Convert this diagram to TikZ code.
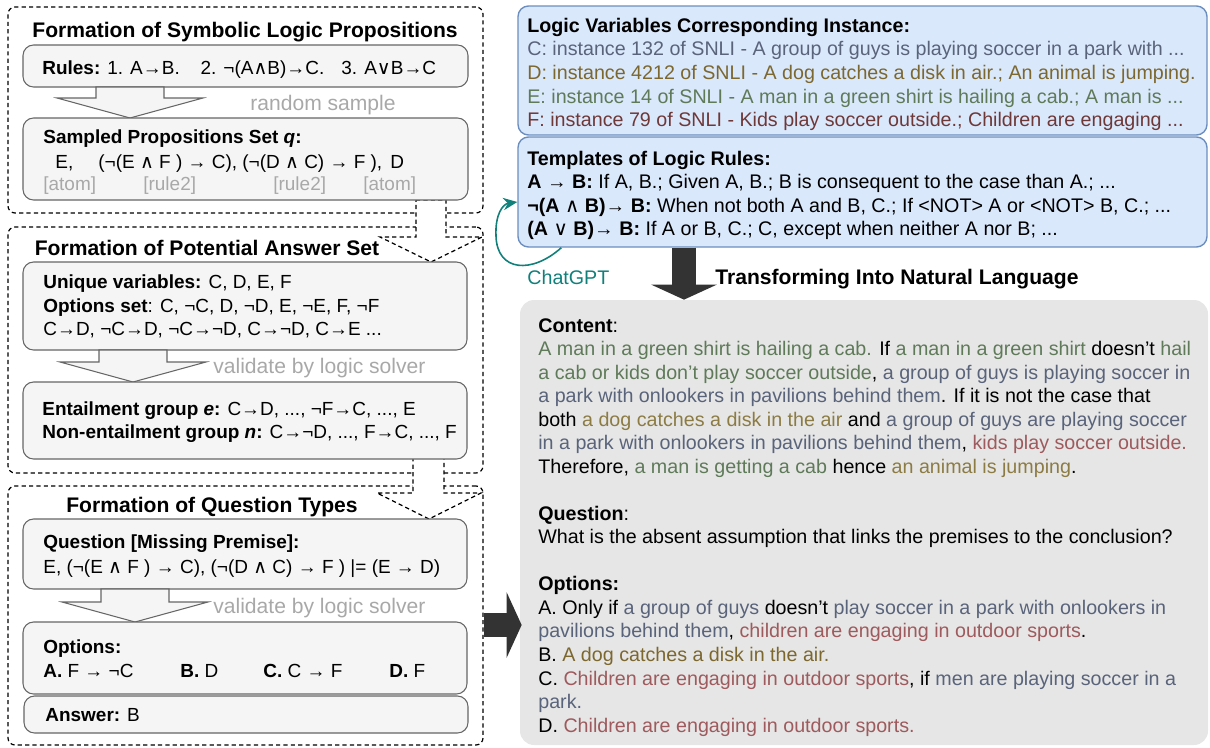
\documentclass[tikz,border=0pt]{standalone}
\usepackage{fontspec}
\setmainfont{Liberation Sans}
\newfontfamily\logicfont{DejaVu Sans}
\usetikzlibrary{fit,calc,arrows.meta}

\definecolor{boxgray}{HTML}{F5F5F5}
\definecolor{edgegray}{HTML}{666666}
\definecolor{notegray}{HTML}{A8A8A8}
\definecolor{bluefill}{HTML}{DAE8FC}
\definecolor{blueedge}{HTML}{6C8EBF}
\definecolor{panelgray}{HTML}{E6E6E6}
\definecolor{darkarrow}{HTML}{333333}
\definecolor{gptteal}{HTML}{11807B}
% colours of the four variables (list / running text)
\definecolor{grpC}{HTML}{59637A}
\definecolor{dogD}{HTML}{7C672E}
\definecolor{dogDl}{HTML}{8C7B43}
\definecolor{manE}{HTML}{5E7A58}
\definecolor{kidF}{HTML}{6E3838}
\definecolor{kidFl}{HTML}{9E5A5C}

\newcommand{\andsym}{{\logicfont\mdseries ∧}}
\newcommand{\orsym}{{\logicfont\mdseries ∨}}
\newcommand{\grp}[1]{\textcolor{grpC}{#1}}
\newcommand{\dog}[1]{\textcolor{dogDl}{#1}}
\newcommand{\man}[1]{\textcolor{manE}{#1}}
\newcommand{\kid}[1]{\textcolor{kidFl}{#1}}

\begin{document}
\begin{tikzpicture}[x=0.02cm, y=-0.02cm,
  section/.style={draw=black, dash pattern=on 2.4pt off 1.8pt, rounded corners=4pt,
                  line width=0.7pt, inner sep=0pt},
  inner/.style={draw=edgegray, fill=boxgray, rounded corners=6pt, line width=0.6pt, inner sep=0pt},
  bluebox/.style={draw=blueedge, fill=bluefill, rounded corners=6pt, line width=0.8pt, inner sep=0pt},
  panel/.style={fill=panelgray, rounded corners=8pt, inner sep=0pt},
  dashblk/.style={draw=black, fill=white, dash pattern=on 2.4pt off 1.8pt, line width=0.7pt},
  hollow/.style={draw=edgegray, fill=boxgray, line width=0.6pt},
  bigarrow/.style={darkarrow, line width=0.48cm, -{Triangle[length=0.3cm, width=1.3cm]}},
  gptarrow/.style={gptteal, line width=0.9pt, -{Stealth[length=8pt, width=7pt]}},
  ttl/.style={anchor=base, inner sep=0pt, font=\bfseries\fontsize{12}{14}\selectfont},
  txt/.style={anchor=base west, inner sep=0pt, font=\fontsize{10.8}{13}\selectfont},
  rtxt/.style={anchor=base west, inner sep=0pt, font=\fontsize{11.2}{13.4}\selectfont},
  note/.style={anchor=base west, inner sep=0pt, text=notegray, font=\fontsize{12}{14}\selectfont}]
\useasboundingbox (0,0) rectangle (1210,747);

% left column: three dashed sections
\node[section, fit={(8,7) (483,213)}] (secA) {};
\node[section, fit={(8,227) (483,473)}] (secB) {};
\node[section, fit={(8,486) (483,745)}] (secC) {};
\draw[dashblk] (416,200) -- (446,200) -- (446,237) -- (482,237) -- (431,262) -- (380,237) -- (416,237) -- cycle;
\draw[dashblk] (413,457) -- (444,457) -- (444,493) -- (481,493) -- (429,519) -- (377,493) -- (413,493) -- cycle;

% section A
\node[ttl] (ttlA) at (245,37) {Formation of Symbolic Logic Propositions};
\node[inner, fit={(23,45) (468,87)}] (rules) {};
\node[txt] (rulestxt) at (42,74) {\textbf{Rules:} 1. A→B.\hspace{1.1em}2. ¬(A\andsym B)→C.\hspace{0.9em}3. A\orsym B→C};
\draw[hollow] (96,87) -- (164,87) -- (164,98) -- (203,98) -- (130,118) -- (57,98) -- (96,98) -- cycle;
\node[note] (sample) at (250,110) {random sample};
\node[inner, fit={(23,118) (468,200)}] (sampled) {};
\node[txt] (sampledttl) at (43,143) {\textbf{Sampled Propositions Set \emph{q}:}};
\node[txt] (propE) at (55,168) {E,};
\node[txt] (propR) at (98,168) {(¬(E \andsym{} F ) → C), (¬(D \andsym{} C) → F ),};
\node[txt] (propD) at (390,168) {D};
\node[txt, text=notegray] (tagA) at (43,190) {[atom]};
\node[txt, text=notegray] (tagB) at (143,190) {[rule2]};
\node[txt, text=notegray] (tagC) at (273,190) {[rule2]};
\node[txt, text=notegray] (tagD) at (363,190) {[atom]};

% section B
\node[ttl] (ttlB) at (207,255) {Formation of Potential Answer Set};
\node[inner, fit={(23,262) (467,350)}] (uniq) {};
\node[txt] (uniqA) at (43,288) {\textbf{Unique variables:} C, D, E, F};
\node[txt] (uniqB) at (43,312) {\textbf{Options set}: C, ¬C, D, ¬D, E, ¬E, F, ¬F};
\node[txt] (uniqC) at (43,335) {C→D, ¬C→D, ¬C→¬D, C→¬D, C→E ...};
\draw[hollow] (99,350) -- (167,350) -- (167,362) -- (206,362) -- (133,382) -- (60,362) -- (99,362) -- cycle;
\node[note] (solveA) at (213,373) {validate by logic solver};
\node[inner, fit={(23,382) (467,459)}] (entail) {};
\node[txt] (entA) at (42,415) {\textbf{Entailment group \emph{e}:} C→D, ..., ¬F→C, ..., E};
\node[txt] (entB) at (42,438) {\textbf{Non-entailment group \emph{n}:} C→¬D, ..., F→C, ..., F};

% section C
\node[ttl] (ttlC) at (212,512) {Formation of Question Types};
\node[inner, fit={(23,519) (467,589)}] (quest) {};
\node[txt] (questA) at (43,548) {\textbf{Question [Missing Premise]:}};
\node[txt] (questB) at (43,573) {E, (¬(E \andsym{} F ) → C), (¬(D \andsym{} C) → F ) |= (E → D)};
\draw[hollow] (101,589) -- (169,589) -- (169,602) -- (208,602) -- (135,622) -- (62,602) -- (101,602) -- cycle;
\node[note] (solveB) at (213,613) {validate by logic solver};
\node[inner, fit={(23,622) (467,694)}] (opts) {};
\node[txt] (optsttl) at (43,653) {\textbf{Options:}};
\node[txt] (optA) at (43,677) {\textbf{A.} F → ¬C};
\node[txt] (optB) at (180,677) {\textbf{B.} D};
\node[txt] (optC) at (263,677) {\textbf{C.} C → F};
\node[txt] (optD) at (389,677) {\textbf{D.} F};
\node[inner, fit={(24,696) (468,733)}] (answer) {};
\node[txt] (answertxt) at (45,721) {\textbf{Answer:} B};

% right column
\node[bluebox, fit={(518,6) (1207,135)}] (inst) {};
\node[rtxt] (instttl) at (527,32) {\textbf{Logic Variables Corresponding Instance:}};
\node[rtxt, text=grpC] (instC) at (527,55) {C: instance 132 of SNLI - A group of guys is playing soccer in a park with ...};
\node[rtxt, text=dogD] (instD) at (527,79) {D: instance 4212 of SNLI - A dog catches a disk in air.; An animal is jumping.};
\node[rtxt, text=manE] (instE) at (527,103) {E: instance 14 of SNLI - A man in a green shirt is hailing a cab.; A man is ...};
\node[rtxt, text=kidF] (instF) at (527,126) {F: instance 79 of SNLI - Kids play soccer outside.; Children are engaging ...};

\node[bluebox, fit={(518,137) (1207,247)}] (tpl) {};
\node[rtxt] (tplttl) at (527,165) {\textbf{Templates of Logic Rules:}};
\node[rtxt] (tplA) at (527,188) {\textbf{A → B:} If A, B.; Given A, B.; B is consequent to the case than A.; ...};
\node[rtxt] (tplB) at (527,212) {\textbf{¬(A \andsym{} B)→ B:} When not both A and B, C.; If <NOT> A or <NOT> B, C.; ...};
\node[rtxt] (tplC) at (527,235) {\textbf{(A \orsym{} B)→ B:} If A or B, C.; C, except when neither A nor B; ...};

\draw[gptarrow] ([xshift=0.88cm]tpl.south west) .. controls (532,274) and (497,272) .. (496,236)
  .. controls (495,214) and (503,204) .. ([yshift=-0.2cm]tpl.west);
\node[rtxt, text=gptteal] (gpt) at (527,284) {ChatGPT};

\node[panel, fit={(520,300) (1208,745)}] (content) {};
\coordinate (dn) at (684,0);
\draw[bigarrow] (tpl.south -| dn) -- (content.north -| dn);
\node[anchor=base west, inner sep=0pt, font=\bfseries\fontsize{12}{14}\selectfont] (trans) at (715,284) {Transforming Into Natural Language};
\coordinate (rt) at (0,625);
\draw[bigarrow] (secC.east |- rt) -- ([xshift=0.04cm]content.west |- rt);

% text of the generated instance
\node[rtxt] (ct0) at (538,332) {\textbf{Content}:};
\node[rtxt] (ct1) at (538,355.5) {\man{A man in a green shirt is hailing a cab.} If \man{a man in a green shirt} doesn’t \man{hail}};
\node[rtxt] (ct2) at (538,379) {\man{a cab or kids don’t play soccer outside}, \grp{a group of guys is playing soccer in}};
\node[rtxt] (ct3) at (538,402.6) {\grp{a park with onlookers in pavilions behind them}. If it is not the case that};
\node[rtxt] (ct4) at (538,426.1) {both \dog{a dog catches a disk in the air} and \grp{a group of guys are playing soccer}};
\node[rtxt] (ct5) at (538,449.6) {\grp{in a park with onlookers in pavilions behind them}, \kid{kids play soccer outside.}};
\node[rtxt] (ct6) at (538,473.2) {Therefore, \man{a man is getting a cab} hence \dog{an animal is jumping}.};
\node[rtxt] (qu0) at (538,520.2) {\textbf{Question}:};
\node[rtxt] (qu1) at (538,543.8) {What is the absent assumption that links the premises to the conclusion?};
\node[rtxt] (op0) at (538,590.8) {\textbf{Options:}};
\node[rtxt] (op1) at (538,614.4) {A. Only if \grp{a group of guys} doesn’t \grp{play soccer in a park with onlookers in}};
\node[rtxt] (op2) at (538,637.9) {\grp{pavilions behind them}, \kid{children are engaging in outdoor sports}.};
\node[rtxt] (op3) at (538,661.4) {B. \textcolor{dogD}{A dog catches a disk in the air.}};
\node[rtxt] (op4) at (538,685) {C. \kid{Children are engaging in outdoor sports}, if \grp{men are playing soccer in a}};
\node[rtxt] (op5) at (538,708.5) {\grp{park.}};
\node[rtxt] (op6) at (538,732) {D. \kid{Children are engaging in outdoor sports.}};
\end{tikzpicture}
\end{document}
